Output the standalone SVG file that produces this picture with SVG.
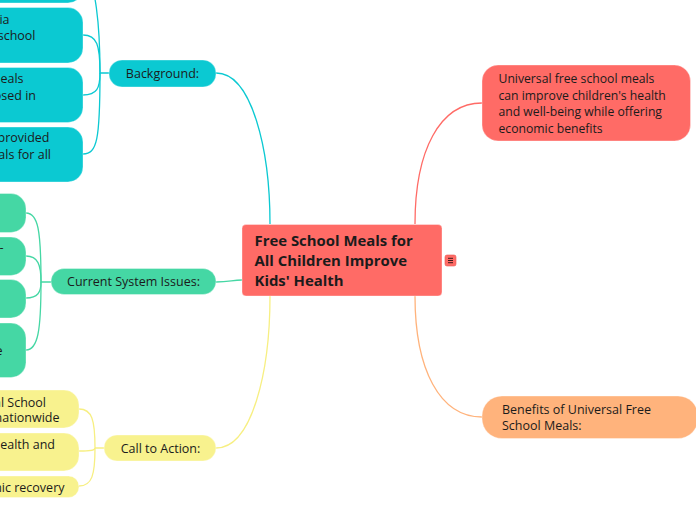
<svg xmlns="http://www.w3.org/2000/svg" width="696" height="520" viewBox="0 0 696 520">
<style>
text{font-family:"Open Sans","Noto Sans","DejaVu Sans",sans-serif;fill:#1b1b1b;font-size:12.5px}
.c{fill:none;stroke-width:1.3}
.teal{fill:#0bc9d2}.green{fill:#45d7a4}.yellow{fill:#f8f28e}.red{fill:#ff6b66}.orange{fill:#ffb37c}
.lt{stroke:#0bc9d2}.lg{stroke:#45d7a4}.ly{stroke:#f7ef82}.lr{stroke:#ff6b66}.lo{stroke:#ffb37c}
.n{stroke:#ffffff;stroke-opacity:.35;stroke-width:1}
.b{font-size:14.9px;font-weight:700}
.u{font-size:12.2px}
</style>
<rect width="696" height="520" fill="#ffffff"/>
<g id="connectors">
<path class="c lt" d="M216,73 C252,73 270,150 270,224"/>
<path class="c lg" d="M216,282 C230,282 232,280 242,280"/>
<path class="c ly" d="M270,296 C270,372 252,448 216,448"/>
<path class="c lr" d="M415,224 C415,150 440,103 482,103"/>
<path class="c lo" d="M415,296 C415,370 440,417 482,417"/>
<path class="c lt" d="M109,73 H100 C100,30 96,-25 83,-25"/>
<path class="c lt" d="M100,73 C100,45 97,35 83,35"/>
<path class="c lt" d="M100,73 C100,88 97,95 83,95"/>
<path class="c lt" d="M100,73 C100,140 97,154 83,154"/>
<path class="c lg" d="M51,282 H41 C41,230 38,213 26,213"/>
<path class="c lg" d="M41,282 C41,265 38,256 26,256"/>
<path class="c lg" d="M41,282 C41,292 38,298 26,298"/>
<path class="c lg" d="M41,282 C41,330 38,350 26,350"/>
<path class="c ly" d="M104,448 H95 C95,420 92,409 79,409"/>
<path class="c ly" d="M95,448 C95,450 92,451 79,451"/>
<path class="c ly" d="M95,448 C95,475 92,486 79,486"/>
</g>
<g id="central">
<rect class="red n" x="242" y="224.5" width="200" height="71.5" rx="4"/>
<text class="b" x="254.5" y="246">Free School Meals for</text>
<text class="b" x="254.5" y="266">All Children Improve</text>
<text class="b" x="254.5" y="286">Kids' Health</text>
<rect x="445" y="255" width="11" height="11" rx="2" fill="#ff6b66" stroke="#e85550" stroke-width=".6"/>
<path d="M448,258.3 H453 M448,260.5 H453 M448,262.7 H453" stroke="#3a1a1a" stroke-width="1"/>
</g>
<g id="universal">
<rect class="red n" x="482" y="65" width="208.5" height="76" rx="16"/>
<text class="u" x="498.5" y="83">Universal free school meals</text>
<text class="u" x="498.5" y="99.5">can improve children's health</text>
<text class="u" x="498.5" y="116">and well-being while offering</text>
<text class="u" x="498.5" y="132.5">economic benefits</text>
</g>
<g id="benefits">
<rect class="orange n" x="482" y="396" width="216" height="42.5" rx="20"/>
<text x="502" y="413.5">Benefits of Universal Free</text>
<text x="502" y="430">School Meals:</text>
</g>
<g id="background">
<rect class="teal n" x="109" y="60" width="107" height="27" rx="13"/>
<text x="162.5" y="78" text-anchor="middle">Background:</text>
</g>
<g id="current">
<rect class="green n" x="51" y="268.5" width="165" height="26" rx="13"/>
<text x="133.5" y="286" text-anchor="middle">Current System Issues:</text>
</g>
<g id="call">
<rect class="yellow n" x="104" y="435" width="112" height="26" rx="13"/>
<text x="160.5" y="453" text-anchor="middle">Call to Action:</text>
</g>
<g id="bg1"><rect class="teal n" x="-40" y="-53" width="123" height="56" rx="15"/></g>
<g id="bg2"><rect class="teal n" x="-40" y="7.5" width="123" height="55.5" rx="15"/>
<text x="9.5" y="23.5" text-anchor="end">ia</text>
<text x="35.5" y="39.5" text-anchor="end">school</text></g>
<g id="bg3"><rect class="teal n" x="-40" y="67.5" width="123" height="55" rx="15"/>
<text x="23.5" y="83" text-anchor="end">eals</text>
<text x="36" y="99.5" text-anchor="end">osed in</text></g>
<g id="bg4"><rect class="teal n" x="-40" y="127" width="123" height="55" rx="15"/>
<text x="49.5" y="142" text-anchor="end">provided</text>
<text x="51" y="158.5" text-anchor="end">als for all</text></g>
<g id="cs1"><rect class="green n" x="-40" y="193.5" width="66" height="39" rx="15"/></g>
<g id="cs2"><rect class="green n" x="-40" y="237" width="66" height="38.5" rx="15"/>
<text x="3.5" y="252" text-anchor="end">-</text></g>
<g id="cs3"><rect class="green n" x="-40" y="279.5" width="66" height="38.5" rx="15"/></g>
<g id="cs4"><rect class="green n" x="-40" y="323" width="66" height="54.5" rx="15"/>
<text x="2.5" y="354.5" text-anchor="end">e</text></g>
<g id="ca1"><rect class="yellow n" x="-40" y="390" width="119" height="38" rx="15"/>
<text x="46" y="406.5" text-anchor="end">al School</text>
<text x="59.5" y="422" text-anchor="end">nationwide</text></g>
<g id="ca2"><rect class="yellow n" x="-40" y="433" width="119" height="38" rx="15"/>
<text x="55" y="448.5" text-anchor="end">health and</text></g>
<g id="ca3"><rect class="yellow n" x="-40" y="476" width="119" height="21.5" rx="10.5"/>
<text x="64.5" y="491.5" text-anchor="end">nic recovery</text></g>
</svg>
